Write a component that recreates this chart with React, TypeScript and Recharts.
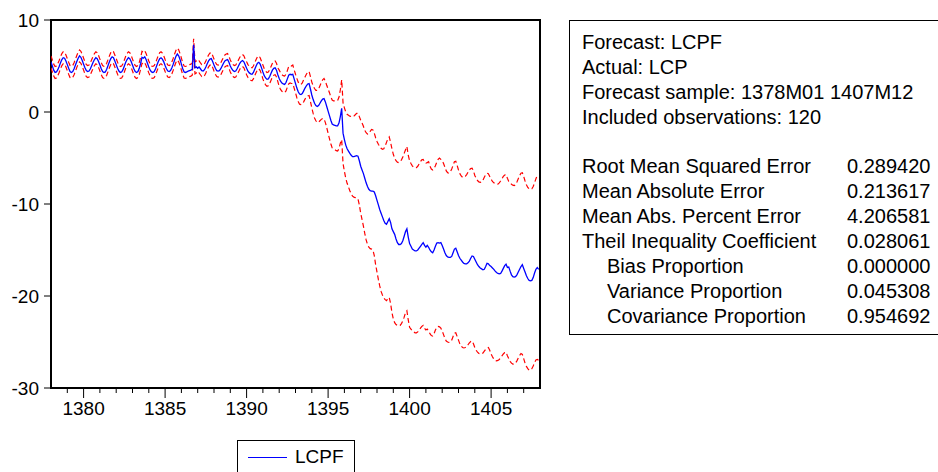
import { LineChart, Line, XAxis, YAxis, ReferenceArea } from 'recharts'

// monthly observations, 1378M01 .. 1407M12, one row per year
const START_YEAR = 1378

const LCPF = [
  5.45, 5.0, 4.55, 4.3, 4.35, 4.6, 4.95, 5.35, 5.7, 5.9, 5.85, 5.55, // 1378
  5.15, 4.75, 4.4, 4.3, 4.4, 4.7, 5.1, 5.5, 5.85, 6.1, 5.95, 5.6,
  5.2, 4.8, 4.5, 4.4, 4.45, 4.7, 5.05, 5.4, 5.7, 5.9, 5.8, 5.5, // 1380
  5.1, 4.7, 4.4, 4.3, 4.35, 4.65, 5.05, 5.45, 5.8, 6.0, 5.9, 5.55,
  5.15, 4.75, 4.45, 4.3, 4.35, 4.6, 5.0, 5.4, 5.7, 5.9, 5.8, 5.5,
  5.1, 4.7, 4.4, 4.3, 4.4, 4.75, 5.3, 5.95, 5.85, 6.0, 5.7, 5.3,
  4.9, 4.55, 4.35, 4.3, 4.4, 4.7, 5.1, 5.5, 5.8, 5.9, 5.75, 5.45,
  5.05, 4.7, 4.45, 4.4, 4.5, 4.8, 5.2, 5.65, 6.05, 6.3, 6.1, 5.7, // 1385
  5.2, 4.7, 4.35, 4.3, 4.35, 4.45, 4.5, 4.55, 4.65, 7.3, 4.8, 4.9,
  4.75, 4.9, 4.7, 4.5, 4.45, 4.6, 4.9, 5.25, 5.55, 5.75, 5.8, 5.5,
  5.1, 4.75, 4.5, 4.45, 4.5, 4.7, 5.0, 5.3, 5.55, 5.65, 5.7, 5.4,
  5.0, 4.7, 4.5, 4.4, 4.45, 4.7, 5.0, 5.3, 5.5, 5.6, 5.45, 5.1,
  4.75, 4.45, 4.25, 4.15, 4.1, 4.3, 4.65, 5.0, 5.3, 5.4, 5.2, 4.8, // 1390
  4.35, 3.95, 3.7, 3.55, 3.6, 3.85, 4.2, 4.55, 4.75, 4.8, 4.55, 4.05,
  3.65, 3.35, 3.15, 3.05, 3.0, 3.2, 3.6, 4.0, 4.1, 4.05, 4.1, 3.6,
  3.1, 2.6, 2.2, 1.95, 1.9, 2.0, 2.3, 2.6, 2.85, 3.05, 3.1, 2.5,
  1.85, 1.35, 0.95, 0.7, 0.6, 0.7, 0.95, 1.2, 1.4, 1.45, 1.1, 0.6,
  0.1, -0.4, -0.9, -1.3, -1.4, -1.45, -1.5, -1.5, -1.2, -0.5, 0.4, -2.3, // 1395
  -3.0, -3.6, -4.0, -4.25, -4.5, -4.7, -4.85, -4.85, -4.8, -4.75, -4.8, -5.3,
  -5.9, -6.3, -6.7, -7.2, -7.7, -8.1, -8.4, -8.55, -8.6, -8.6, -8.7, -9.1,
  -9.6, -10.1, -10.6, -11.0, -11.4, -11.8, -12.1, -12.2, -11.9, -11.6, -12.0, -12.7,
  -13.0, -13.3, -13.8, -14.2, -14.4, -14.4, -14.3, -14.0, -13.5, -13.0, -12.7, -13.6,
  -14.3, -14.6, -14.9, -15.0, -15.1, -15.1, -15.0, -14.8, -14.6, -14.4, -14.2, -14.5, // 1400
  -14.7, -14.5, -14.7, -15.0, -15.2, -15.3, -15.0, -14.6, -14.25, -14.2, -14.25, -14.2,
  -14.5, -14.9, -15.3, -15.6, -15.75, -15.8, -15.8, -15.7, -15.3, -14.9, -14.8, -15.2,
  -15.6, -15.9, -16.1, -16.3, -16.45, -16.5, -16.5, -16.4, -16.2, -15.9, -15.65, -15.7,
  -16.0, -16.3, -16.6, -16.8, -16.95, -17.05, -17.15, -17.1, -16.8, -16.45, -16.5, -16.7,
  -16.8, -16.95, -17.1, -17.3, -17.45, -17.55, -17.6, -17.55, -17.3, -17.0, -16.7, -16.55, // 1405
  -16.9, -16.85, -17.3, -17.7, -17.9, -17.95, -17.9, -17.7, -17.4, -17.1, -16.8, -16.6,
  -17.0, -17.4, -17.8, -18.1, -18.3, -18.35, -18.3, -18.0, -17.5, -17.1, -16.9, -17.1,
]

// forecast + 2 S.E.
const UPPER = [
  6.1, 5.65, 5.2, 4.95, 5.0, 5.25, 5.6, 6.0, 6.35, 6.55, 6.5, 6.2,
  5.8, 5.4, 5.05, 4.95, 5.05, 5.35, 5.75, 6.15, 6.5, 6.75, 6.6, 6.25,
  5.85, 5.45, 5.15, 5.05, 5.1, 5.35, 5.7, 6.05, 6.35, 6.55, 6.45, 6.15,
  5.75, 5.35, 5.05, 4.95, 5.0, 5.3, 5.7, 6.1, 6.45, 6.65, 6.55, 6.2,
  5.8, 5.4, 5.1, 4.95, 5.0, 5.25, 5.65, 6.05, 6.35, 6.55, 6.45, 6.15,
  5.75, 5.35, 5.05, 4.95, 5.05, 5.4, 5.95, 6.6, 6.5, 6.65, 6.35, 5.95,
  5.55, 5.2, 5.0, 4.95, 5.05, 5.35, 5.75, 6.15, 6.45, 6.55, 6.4, 6.1,
  5.7, 5.35, 5.1, 5.05, 5.15, 5.45, 5.85, 6.3, 6.7, 6.95, 6.75, 6.35,
  5.85, 5.35, 5.0, 4.95, 5.0, 5.1, 5.15, 5.2, 5.3, 7.95, 5.45, 5.55,
  5.4, 5.55, 5.35, 5.15, 5.1, 5.25, 5.55, 5.9, 6.2, 6.4, 6.45, 6.15,
  5.75, 5.4, 5.15, 5.1, 5.15, 5.35, 5.65, 5.95, 6.2, 6.3, 6.35, 6.05,
  5.65, 5.35, 5.15, 5.05, 5.1, 5.35, 5.65, 5.95, 6.15, 6.25, 6.1, 5.75,
  5.45, 5.15, 4.95, 4.85, 4.8, 5.0, 5.35, 5.7, 6.0, 6.1, 5.9, 5.5,
  5.1, 4.7, 4.45, 4.3, 4.35, 4.6, 4.95, 5.3, 5.5, 5.55, 5.3, 4.8,
  4.55, 4.25, 4.05, 3.95, 3.9, 4.1, 4.5, 4.95, 5.05, 5.0, 5.1, 4.6,
  4.1, 3.65, 3.25, 3.05, 3.0, 3.15, 3.5, 3.8, 4.1, 4.35, 4.4, 3.85,
  3.25, 2.85, 2.55, 2.35, 2.35, 2.5, 2.85, 3.2, 3.5, 3.65, 3.35, 2.9,
  2.5, 2.1, 1.65, 1.3, 1.2, 1.2, 1.2, 1.25, 1.6, 2.4, 3.5, 1.0,
  0.45, 0.0, -0.25, -0.35, -0.45, -0.5, -0.55, -0.45, -0.3, -0.15, -0.15, -0.5,
  -0.9, -1.2, -1.55, -2.0, -2.25, -2.4, -2.35, -2.1, -1.9, -1.95, -2.3, -2.8,
  -3.2, -3.5, -3.75, -3.95, -4.05, -4.0, -3.7, -3.3, -2.9, -2.7, -3.3, -4.0,
  -4.6, -5.0, -5.3, -5.45, -5.5, -5.4, -5.2, -4.9, -4.5, -4.1, -3.75, -4.7,
  -5.3, -5.6, -5.85, -6.0, -6.05, -6.05, -5.9, -5.65, -5.4, -5.2, -5.15, -5.4,
  -5.55, -5.5, -5.4, -5.9, -6.2, -6.3, -6.15, -5.85, -5.45, -5.15, -5.0, -5.15,
  -5.3, -5.6, -6.0, -6.4, -6.6, -6.65, -6.5, -6.2, -5.8, -5.4, -5.35, -5.8,
  -6.3, -6.7, -6.95, -7.1, -7.1, -7.0, -6.8, -6.55, -6.3, -6.15, -6.1, -6.4,
  -6.9, -7.2, -7.45, -7.6, -7.65, -7.6, -7.4, -7.1, -6.8, -6.65, -6.7, -7.0,
  -7.3, -7.55, -7.7, -7.8, -7.85, -7.85, -7.7, -7.5, -7.25, -7.0, -6.85, -6.8,
  -7.2, -7.55, -7.7, -7.85, -7.95, -8.0, -7.9, -7.6, -7.25, -6.9, -6.65, -6.6,
  -7.0, -7.5, -7.9, -8.2, -8.35, -8.4, -8.35, -8.1, -7.7, -7.25, -6.9, -6.85,
]

// forecast - 2 S.E.
const LOWER = [
  4.8, 4.35, 3.9, 3.65, 3.7, 3.95, 4.3, 4.7, 5.05, 5.25, 5.2, 4.9,
  4.5, 4.1, 3.75, 3.65, 3.75, 4.05, 4.45, 4.85, 5.2, 5.45, 5.3, 4.95,
  4.55, 4.15, 3.85, 3.75, 3.8, 4.05, 4.4, 4.75, 5.05, 5.25, 5.15, 4.85,
  4.45, 4.05, 3.75, 3.65, 3.7, 4.0, 4.4, 4.8, 5.15, 5.35, 5.25, 4.9,
  4.5, 4.1, 3.8, 3.65, 3.7, 3.95, 4.35, 4.75, 5.05, 5.25, 5.15, 4.85,
  4.45, 4.05, 3.75, 3.65, 3.75, 4.1, 4.65, 5.3, 5.2, 5.35, 5.05, 4.65,
  4.25, 3.9, 3.7, 3.65, 3.75, 4.05, 4.45, 4.85, 5.15, 5.25, 5.1, 4.8,
  4.4, 4.05, 3.8, 3.75, 3.85, 4.15, 4.55, 5.0, 5.4, 5.65, 5.45, 5.05,
  4.55, 4.05, 3.7, 3.65, 3.7, 3.8, 3.85, 3.9, 4.0, 6.65, 4.15, 4.25,
  4.1, 4.25, 4.05, 3.85, 3.8, 3.95, 4.25, 4.6, 4.9, 5.1, 5.15, 4.85,
  4.45, 4.1, 3.85, 3.8, 3.85, 4.05, 4.35, 4.65, 4.9, 5.0, 5.05, 4.75,
  4.35, 4.05, 3.85, 3.75, 3.8, 4.05, 4.35, 4.65, 4.85, 4.95, 4.8, 4.45,
  4.05, 3.75, 3.55, 3.45, 3.4, 3.6, 3.95, 4.3, 4.6, 4.7, 4.5, 4.1,
  3.6, 3.2, 2.95, 2.8, 2.85, 3.1, 3.45, 3.8, 4.0, 4.05, 3.8, 3.3,
  2.75, 2.45, 2.25, 2.15, 2.1, 2.3, 2.7, 3.05, 3.15, 3.1, 3.1, 2.6,
  2.1, 1.55, 1.15, 0.85, 0.8, 0.85, 1.1, 1.4, 1.6, 1.75, 1.8, 1.15,
  0.45, -0.15, -0.65, -0.95, -1.15, -1.1, -0.95, -0.8, -0.7, -0.75, -1.15, -1.7,
  -2.3, -2.9, -3.45, -3.9, -4.0, -4.1, -4.2, -4.25, -4.0, -3.4, -3.0, -5.6,
  -6.45, -7.2, -7.75, -8.15, -8.55, -8.9, -9.15, -9.25, -9.3, -9.35, -9.45, -10.1,
  -11.0, -11.7, -12.4, -13.2, -13.9, -14.4, -14.7, -14.85, -14.9, -15.0, -15.6, -16.6,
  -17.4, -18.2, -18.9, -19.5, -19.9, -20.2, -20.4, -20.5, -20.3, -20.15, -20.8, -21.8,
  -22.5, -22.9, -23.1, -23.2, -23.25, -23.2, -23.0, -22.7, -22.3, -21.8, -21.6, -22.6,
  -23.4, -23.6, -23.8, -23.9, -24.0, -24.0, -23.9, -23.7, -23.5, -23.3, -23.2, -23.5,
  -23.7, -23.6, -23.8, -24.1, -24.3, -24.35, -24.1, -23.7, -23.4, -23.3, -23.35, -23.5,
  -23.8, -24.2, -24.6, -24.9, -25.0, -25.05, -25.0, -24.8, -24.4, -24.05, -24.0, -24.4,
  -24.8, -25.2, -25.45, -25.6, -25.65, -25.6, -25.5, -25.3, -25.1, -24.95, -24.9, -25.2,
  -25.6, -25.9, -26.1, -26.25, -26.3, -26.3, -26.2, -26.0, -25.8, -25.65, -25.6, -25.9,
  -26.3, -26.6, -26.85, -27.0, -27.05, -27.0, -26.9, -26.7, -26.5, -26.3, -26.15, -26.1,
  -26.5, -26.8, -27.1, -27.3, -27.4, -27.4, -27.3, -27.05, -26.75, -26.45, -26.25, -26.35,
  -26.8, -27.3, -27.65, -27.9, -28.05, -28.05, -27.9, -27.6, -27.25, -26.95, -26.9, -27.0,
]

const Y_TICKS = [-30, -20, -10, 0, 10]
const X_TICKS = [
  1379, 1380, 1381, 1382, 1383, 1384, 1385, 1386, 1387, 1388, 1389, 1390, 1391, 1392,
  1393, 1394, 1395, 1396, 1397, 1398, 1399, 1400, 1401, 1402, 1403, 1404, 1405, 1406, 1407,
]
const X_LABELS = [1380, 1385, 1390, 1395, 1400, 1405]

const HEADER = [
  'Forecast: LCPF',
  'Actual: LCP',
  'Forecast sample: 1378M01 1407M12',
  'Included observations: 120',
]
const STAT_NAMES = [
  'Root Mean Squared Error',
  'Mean Absolute Error',
  'Mean Abs. Percent Error',
  'Theil Inequality Coefficient',
  'Bias Proportion',
  'Variance Proportion',
  'Covariance Proportion',
]
const STAT_VALUES = ['0.289420', '0.213617', '4.206581', '0.028061', '0.000000', '0.045308', '0.954692']
const INDENTED = [false, false, false, false, true, true, true]

const FONT = '"Liberation Sans", Arial, sans-serif'

const data = LCPF.map((v, i) => ({
  t: START_YEAR + Math.floor(i / 12) + (i % 12) / 12,
  f: v,
  hi: UPPER[i],
  lo: LOWER[i],
}))

function XTick({ x, y, payload }: { x?: number; y?: number; payload?: { value: number } }) {
  if (x == null || y == null || !payload) return null
  const major = X_LABELS.includes(payload.value)
  return (
    <g>
      <line x1={x} x2={x} y1={y} y2={y + (major ? 10 : 5)} stroke="#000" strokeWidth={1} />
      {major && (
        <text x={x} y={y + 27} textAnchor="middle" fontSize={19} fontFamily={FONT} fill="#000">
          {payload.value}
        </text>
      )}
    </g>
  )
}

function YTick({ x, y, payload }: { x?: number; y?: number; payload?: { value: number } }) {
  if (x == null || y == null || !payload) return null
  return (
    <g>
      <line x1={x - 7} x2={x} y1={y} y2={y} stroke="#000" strokeWidth={1} />
      <text x={x - 12} y={y} dy="0.35em" textAnchor="end" fontSize={19} fontFamily={FONT} fill="#000">
        {payload.value}
      </text>
    </g>
  )
}

function StatsBox() {
  const lineH = 24.9
  const top0 = 8.9
  return (
    <div
      style={{
        position: 'absolute',
        left: 569,
        top: 20,
        width: 400,
        height: 315,
        border: '1px solid #000',
        boxSizing: 'border-box',
        fontFamily: FONT,
        fontSize: 20,
        color: '#000',
        background: '#fff',
      }}
    >
      {HEADER.map((s, i) => (
        <div key={s} style={{ position: 'absolute', left: 12, top: top0 + i * lineH, lineHeight: '25px', whiteSpace: 'nowrap' }}>
          {s}
        </div>
      ))}
      {STAT_NAMES.map((s, i) => (
        <div key={s}>
          <div
            style={{
              position: 'absolute',
              left: INDENTED[i] ? 37 : 12,
              top: top0 + (i + 5) * lineH,
              lineHeight: '25px',
              whiteSpace: 'nowrap',
            }}
          >
            {s}
          </div>
          <div style={{ position: 'absolute', left: 277, top: top0 + (i + 5) * lineH, lineHeight: '25px' }}>
            {STAT_VALUES[i]}
          </div>
        </div>
      ))}
    </div>
  )
}

function LegendBox() {
  return (
    <div
      style={{
        position: 'absolute',
        left: 237,
        top: 440,
        width: 118,
        height: 40,
        border: '1px solid #000',
        boxSizing: 'border-box',
        background: '#fff',
        fontFamily: FONT,
        fontSize: 19,
      }}
    >
      <div style={{ position: 'absolute', left: 10, top: 16, width: 39, borderTop: '1px solid #0000ff' }} />
      <div style={{ position: 'absolute', left: 57, top: 6, lineHeight: '20px' }}>LCPF</div>
    </div>
  )
}

export default function App() {
  return (
    <div style={{ position: 'absolute', left: 0, top: 0, width: 938, height: 472, background: '#fff', overflow: 'hidden' }}>
      <LineChart width={560} height={472} data={data} margin={{ top: 20, right: 20, bottom: 44, left: 0 }}>
        <XAxis
          dataKey="t"
          type="number"
          domain={[1378, 1408]}
          ticks={X_TICKS}
          interval={0}
          axisLine={false}
          tickLine={false}
          tickSize={0}
          tickMargin={0}
          height={40}
          tick={<XTick />}
          allowDataOverflow
        />
        <YAxis
          type="number"
          domain={[-30, 10]}
          ticks={Y_TICKS}
          interval={0}
          axisLine={false}
          tickLine={false}
          tickSize={0}
          tickMargin={0}
          width={51}
          tick={<YTick />}
          allowDataOverflow
        />
        <Line dataKey="hi" stroke="#ff0000" strokeWidth={1.2} strokeDasharray="5 3" dot={false} isAnimationActive={false} />
        <Line dataKey="lo" stroke="#ff0000" strokeWidth={1.2} strokeDasharray="5 3" dot={false} isAnimationActive={false} />
        <Line dataKey="f" stroke="#0000ff" strokeWidth={1.3} dot={false} isAnimationActive={false} />
        <ReferenceArea x1={1378} x2={1408} y1={-30} y2={10} fill="none" fillOpacity={0} stroke="#000" strokeWidth={2} />
      </LineChart>
      <LegendBox />
      <StatsBox />
    </div>
  )
}
